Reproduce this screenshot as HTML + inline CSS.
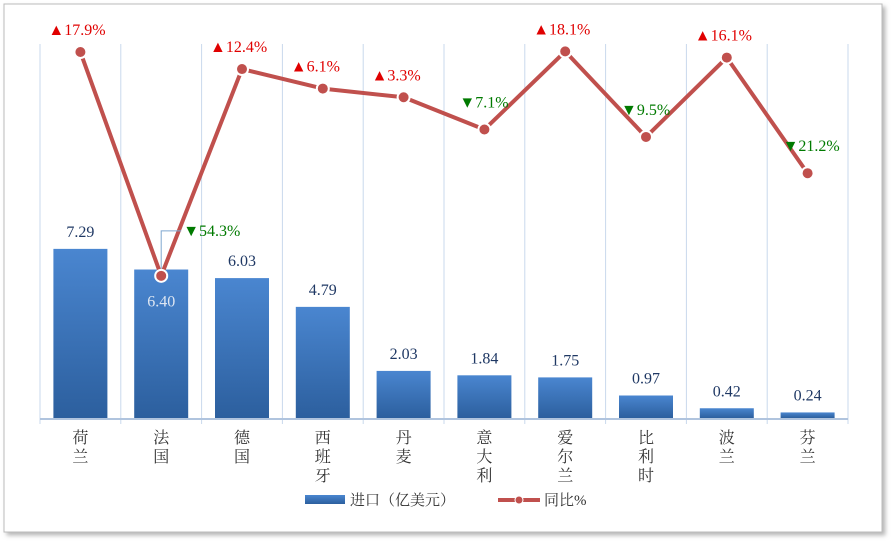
<!DOCTYPE html>
<html><head><meta charset="utf-8"><style>
body{margin:0;background:#fff;width:892px;height:542px;overflow:hidden}
text{font-family:"Liberation Serif","Noto Serif CJK SC","Noto Sans CJK SC",serif}
</style></head><body>
<svg id="chart" width="892" height="542">
<defs>
<linearGradient id="bg" x1="0" y1="0" x2="0" y2="1"><stop offset="0" stop-color="#4a86d0"/><stop offset="1" stop-color="#2c5f9e"/></linearGradient>
<filter id="sh" x="-5%" y="-5%" width="110%" height="110%"><feDropShadow dx="3" dy="3" stdDeviation="2" flood-color="#888" flood-opacity="0.6"/></filter>
</defs>
<rect x="4" y="4" width="878" height="528" fill="#fff" stroke="#bbb" filter="url(#sh)"/>
<g id="grid"></g><g id="bars"></g><g id="line"></g><g id="labels"></g>
<g>
<rect x="305" y="495" width="40" height="9" fill="url(#bg)"/>
<text x="350" y="505" font-size="15" fill="#333">进口（亿美元）</text>
<line x1="498" y1="500" x2="540" y2="500" stroke="#c0504d" stroke-width="4"/>
<circle cx="519" cy="500" r="4" fill="#c0504d" stroke="#fff"/>
<text x="544" y="505" font-size="15" fill="#333">同比%</text>
</g>
</svg>
<script>
const categories=["荷兰","法国","德国","西班牙","丹麦","意大利","爱尔兰","比利时","波兰","芬兰"];
const importValues=[7.29,6.40,6.03,4.79,2.03,1.84,1.75,0.97,0.42,0.24];
const yoyValues=[17.9,-54.3,12.4,6.1,3.3,-7.1,18.1,-9.5,16.1,-21.2];
const NS="http://www.w3.org/2000/svg";
const left=40,step=80.8,base=418,n=categories.length;
const xC=i=>left+step*(i+0.5);
const yBar=v=>base-v*23.2;
const yLine=v=>107.5-v*3.1;
function mk(tag,attrs,parent){const e=document.createElementNS(NS,tag);for(const k in attrs)e.setAttribute(k,attrs[k]);document.getElementById(parent).appendChild(e);return e;}
for(let i=0;i<=n;i++){
 const g=mk('line',{x1:left+step*i,x2:left+step*i,y1:44,y2:424,stroke:'#c9d9ec','stroke-width':1},'grid');
 
 
}
const ax=mk('line',{x1:left,x2:left+step*n,y1:base+1,y2:base+1,stroke:'#b0c4de','stroke-width':2},'grid');


importValues.forEach((v,i)=>{
 const y=yBar(v);
 const r=mk('rect',{x:xC(i)-27,y:y,width:54,height:base-y,fill:'url(#bg)'},'bars');
 
 
 const inside=i===1;
 const t=mk('text',{x:xC(i),y:inside?y+37:y-12,'font-size':16,'text-anchor':'middle',fill:inside?'#dde6f2':'#1f3864'},'labels');
 t.textContent=v.toFixed(2);
 
 
 const cat=categories[i];
 for(let k=0;k<cat.length;k++){
  const c=mk('text',{x:xC(i),y:443+k*19,'font-size':16,'text-anchor':'middle',fill:'#333'},'labels');
  c.textContent=cat[k];
  
  
 }
});
const pts=yoyValues.map((v,i)=>xC(i)+','+yLine(v)).join(' ');
const pl=mk('polyline',{points:pts,fill:'none',stroke:'#c0504d','stroke-width':4,'stroke-linejoin':'round'},'line');


yoyValues.forEach((v,i)=>{
 const x=xC(i),y=yLine(v);
 const c=mk('circle',{cx:x,cy:y,r:6,fill:'#c0504d',stroke:'#fff','stroke-width':2},'line');
 
 
 const up=v>=0;
 let lx=x-32,ly=y-17;
 if(!up){lx=x-25;ly=y-22;}
 if(i===1){lx=x+22;ly=y-40;
  const cl=mk('polyline',{points:(x)+','+(y-7)+' '+(x)+','+(y-45)+' '+(x+20)+','+(y-45),fill:'none',stroke:'#7fa7d0','stroke-width':1},'line');
  
  }
 const t=mk('text',{x:lx,y:ly,'font-size':16,fill:up?'#e00000':'#007a00'},'labels');
 t.textContent=(up?'▲':'▼')+Math.abs(v).toFixed(1)+'%';
 
 
});
</script>
</body></html>
